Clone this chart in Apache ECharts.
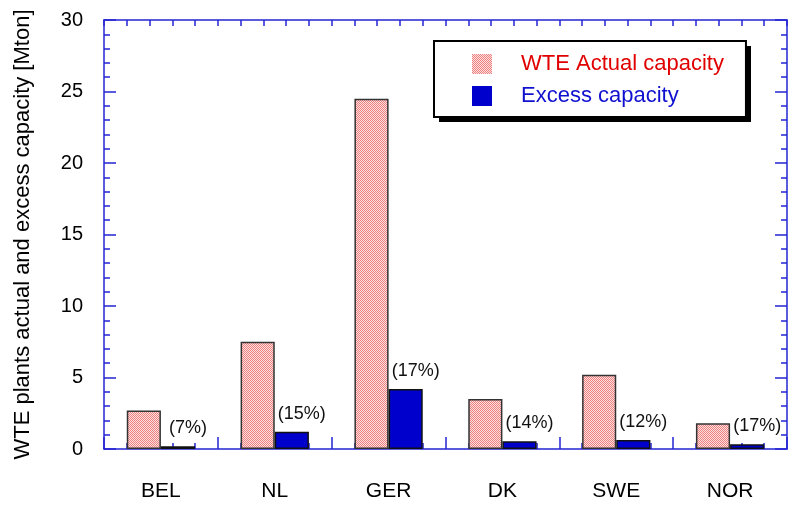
<!DOCTYPE html>
<html>
<head>
<meta charset="utf-8">
<script src="https://cdn.jsdelivr.net/npm/echarts@6/dist/echarts.min.js"></script>
<style>
  html, body { margin: 0; padding: 0; background: #fff; }
  #chart { width: 788px; height: 507px; }
</style>
</head>
<body>
<div id="chart"></div>
<script>
const countries = ["BEL", "NL", "GER", "DK", "SWE", "NOR"];
const actualCapacity = [2.7, 7.5, 24.5, 3.5, 5.2, 1.8];
const excessCapacity = [0.2, 1.2, 4.2, 0.55, 0.63, 0.33];
const excessShare = ["(7%)", "(15%)", "(17%)", "(14%)", "(12%)", "(17%)"];

const axisBlue = "#2424d4";
const font = "Liberation Sans, Arial, sans-serif";

// small checker tile for the pink hatched bars
function pinkPattern() {
  const c = document.createElement("canvas");
  c.width = 4;
  c.height = 4;
  const ctx = c.getContext("2d");
  ctx.fillStyle = "#fbe0e0";
  ctx.fillRect(0, 0, 4, 4);
  ctx.fillStyle = "#ee8080";
  for (let y = 0; y < 4; y++) {
    for (let x = 0; x < 4; x++) {
      if ((x + y) % 2 === 0) ctx.fillRect(x, y, 1, 1);
    }
  }
  return { image: c, repeat: "repeat" };
}

const chart = echarts.init(document.getElementById("chart"), null, { renderer: "canvas" });

const tickLine = { color: axisBlue, width: 1.5 };

// frame axes: ticks only, pointing inwards
const boxX = (position, majorLen) => ({
  type: "value",
  position: position,
  min: 0,
  max: 6,
  interval: 1,
  axisLine: { show: true, onZero: false, lineStyle: tickLine },
  axisTick: { show: true, inside: true, length: majorLen, lineStyle: tickLine },
  minorTick: { show: true, splitNumber: 5, length: 6, lineStyle: tickLine },
  axisLabel: { show: false },
  splitLine: { show: false },
});

const boxY = (position) => ({
  type: "value",
  position: position,
  min: 0,
  max: 30,
  interval: 5,
  axisLine: { show: true, onZero: false, lineStyle: tickLine },
  axisTick: { show: true, inside: true, length: 12, lineStyle: tickLine },
  minorTick: { show: true, splitNumber: 5, length: 6, lineStyle: tickLine },
  axisLabel: { show: false },
  splitLine: { show: false },
});

const leftY = Object.assign(boxY("left"), {
  name: "WTE plants actual and excess capacity [Mton]",
  nameLocation: "middle",
  nameGap: 70,
  nameTextStyle: { color: "#000", fontSize: 22 },
  axisLabel: { show: true, color: "#000", fontSize: 20, margin: 21 },
});

chart.setOption({
  animation: false,
  backgroundColor: "#fff",
  textStyle: { fontFamily: font },
  grid: { left: 104, right: 1, top: 20, bottom: 58 },
  graphic: [
    {
      // drop shadow behind the legend box
      type: "rect",
      z: 0,
      shape: { x: 439, y: 46, width: 312, height: 76 },
      style: { fill: "#000" },
    },
  ],
  legend: {
    orient: "vertical",
    left: 434,
    top: 41,
    padding: [12, 22, 10, 38],
    itemGap: 10,
    itemWidth: 20,
    itemHeight: 20,
    backgroundColor: "#fff",
    borderColor: "#000",
    borderWidth: 2,
    borderRadius: 0,
    itemStyle: { borderWidth: 0 },
    textStyle: { fontSize: 22, lineHeight: 22, padding: [0, 0, 0, 24] },
    data: [
      { name: "WTE Actual capacity", icon: "rect", textStyle: { color: "#e00000" } },
      { name: "Excess capacity", icon: "rect", textStyle: { color: "#1010d0" } },
    ],
  },
  xAxis: [
    {
      type: "category",
      data: countries,
      position: "bottom",
      axisLine: { show: false, onZero: false },
      axisTick: { show: false },
      axisLabel: { color: "#000", fontSize: 21, margin: 32 },
    },
    boxX("bottom", 12),
    boxX("top", 6),
  ],
  yAxis: [leftY, boxY("right")],
  series: [
    {
      name: "WTE Actual capacity",
      type: "bar",
      xAxisIndex: 0,
      yAxisIndex: 0,
      data: actualCapacity,
      barWidth: "30%",
      barGap: "0%",
      itemStyle: { color: pinkPattern(), borderColor: "#333", borderWidth: 1.5 },
      z: 3,
    },
    {
      name: "Excess capacity",
      type: "bar",
      xAxisIndex: 0,
      yAxisIndex: 0,
      data: excessCapacity,
      barWidth: "30%",
      barGap: "0%",
      itemStyle: { color: "#0000cc", borderColor: "#111", borderWidth: 1.5 },
      label: {
        show: true,
        position: "top",
        offset: [10, -4],
        color: "#111",
        fontSize: 18,
        formatter: (p) => excessShare[p.dataIndex],
      },
      z: 3,
    },
  ],
});
</script>
</body>
</html>
